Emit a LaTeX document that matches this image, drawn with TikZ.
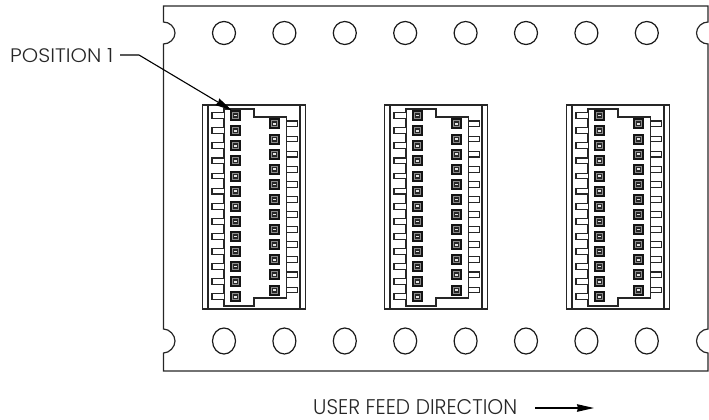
\documentclass[tikz,border=0pt]{standalone}
\usepackage{fontspec}
\setmainfont{Poppins Light}
\usetikzlibrary{arrows.meta}
\tikzset{
 plate/.style={line width=1.2pt,black!85},
 hole/.style={line width=1.2pt,black!90},
 conn/.style={line width=1.3pt,black!85},
 pin/.style={line width=1.1pt,black!85},
 label/.style={inner sep=0pt,text=black!85,font=\fontsize{17.5}{20}\selectfont},
 leader/.style={line width=1.1pt,black},
 head/.style={-{Stealth[length=17pt,width=7.5pt,inset=1pt]}}
}
\begin{document}
\begin{tikzpicture}[x=1pt,y=-1pt]
\useasboundingbox (0,0) rectangle (709,420);
% plate
\draw[plate] (163.5,22) -- (163.5,6) -- (708,6) -- (708,22)
  .. controls (702,22) and (696.5,27) .. (696.5,33)
  .. controls (696.5,39) and (702,44) .. (708,44) -- (708,329)
  .. controls (702,329) and (696.5,335) .. (696.5,341)
  .. controls (696.5,347) and (702,353) .. (708,353) -- (708,371) -- (163.5,371) -- (163.5,353)
  .. controls (169.5,353) and (175,347) .. (175,341)
  .. controls (175,335) and (169.5,329) .. (163.5,329) -- (163.5,44)
  .. controls (169.5,44) and (175,39) .. (175,33)
  .. controls (175,27) and (169.5,22) .. (163.5,22) -- cycle;
\foreach \i in {0,...,7}{
  \draw[hole] ({224+60.4*\i},33) circle[radius=11.5];
  \draw[hole] ({224+60.4*\i},341) ellipse[x radius=11.5,y radius=13];
}
% connectors
\foreach \o in {0,182,364}{
\begin{scope}[xshift=\o pt]
 \draw[conn] (202.3,105) rectangle (305.7,309);
 \draw[conn] (208,105) -- (208,309);
 \draw[conn] (300,105) -- (300,309);
 \draw[conn] (224,109) -- (254,109) -- (254,117) -- (286.7,117) -- (286.7,298) -- (254,298) -- (254,306) -- (224,306) -- cycle;
 \foreach \r in {0,...,12}{
   \pgfmathsetmacro{\yy}{115.6+15.1*\r}
   \draw[pin,fill=white] (224,\yy-2.9) -- (212,\yy-2.9) -- (212,\yy+2.9) -- (224,\yy+2.9);
   \fill[black!92] (230.2,\yy-5.5) rectangle (241.2,\yy+5.5);
   \fill[black!45] (232.2,\yy-3.5) rectangle (239.2,\yy+3.5);
   \fill[black!85] (233.2,\yy-2.5) rectangle (238.2,\yy+2.5);
   \fill[white!90!black] (234.2,\yy-0.8) rectangle (237.2,\yy+0.8);
 }
 \foreach \r in {0,...,11}{
   \pgfmathsetmacro{\yy}{123.9+15.1*\r}
   \draw[pin,fill=white] (286.7,\yy-2.9) -- (297.7,\yy-2.9) -- (297.7,\yy+2.9) -- (286.7,\yy+2.9);
   \fill[black!92] (269,\yy-5.5) rectangle (280,\yy+5.5);
   \fill[black!45] (271,\yy-3.5) rectangle (278,\yy+3.5);
   \fill[black!85] (272,\yy-2.5) rectangle (277,\yy+2.5);
   \fill[white!90!black] (273,\yy-0.8) rectangle (276,\yy+0.8);
 }
\end{scope}}
% labels
\node[label,anchor=west] (pos) at (10,55.5) {\resizebox{103pt}{14pt}{POSITION 1}};
\node[label,anchor=west] (feed) at (313,407.5) {\resizebox{204pt}{15pt}{USER FEED DIRECTION}};
\coordinate (posA) at (120,55);
\coordinate (posB) at (139,55);
\coordinate (posTip) at (232,110.5);
\coordinate (feedA) at (535,408);
\coordinate (feedTip) at (594,408);
\draw[leader,head] (posA) -- (posB) -- (posTip);
\draw[leader,head] (feedA) -- (feedTip);
\end{tikzpicture}
\end{document}
